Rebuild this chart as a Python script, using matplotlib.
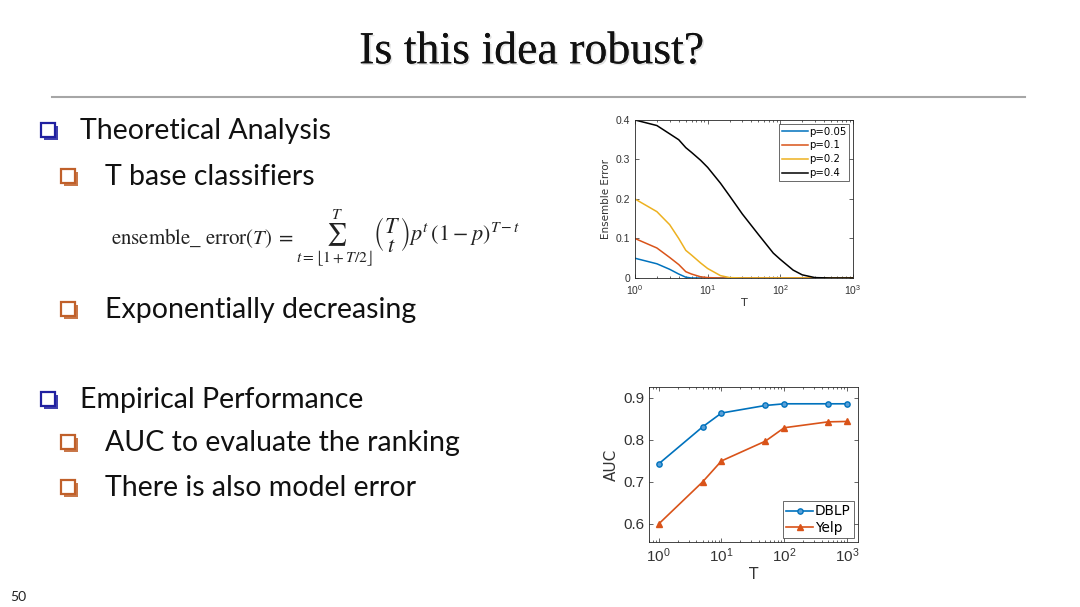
import numpy as np
import matplotlib
matplotlib.use('Agg')
import matplotlib.pyplot as plt
from matplotlib.patches import Rectangle
from matplotlib.lines import Line2D
import matplotlib.patheffects as pe

# --- data ---
T_grid = [1, 2, 3, 4, 5, 6, 8, 10, 15, 20, 30, 50, 80, 100, 150, 200, 300, 500, 1000]
err_p005 = [0.050, 0.036, 0.022, 0.010, 0.002, 0.0, 0.0, 0.0, 0.0, 0.0, 0.0, 0.0, 0.0, 0.0, 0.0, 0.0, 0.0, 0.0, 0.0]
err_p01 = [0.100, 0.076, 0.052, 0.034, 0.016, 0.010, 0.003, 0.001, 0.0, 0.0, 0.0, 0.0, 0.0, 0.0, 0.0, 0.0, 0.0, 0.0, 0.0]
err_p02 = [0.200, 0.168, 0.135, 0.100, 0.070, 0.058, 0.038, 0.024, 0.006, 0.001, 0.0, 0.0, 0.0, 0.0, 0.0, 0.0, 0.0, 0.0, 0.0]
err_p04 = [0.400, 0.386, 0.365, 0.350, 0.330, 0.318, 0.298, 0.280, 0.240, 0.208, 0.162, 0.110, 0.063, 0.047, 0.020, 0.008, 0.001, 0.0, 0.0]
p_labels = ['p=0.05', 'p=0.1', 'p=0.2', 'p=0.4']

T_auc = [1, 5, 10, 50, 100, 500, 1000]
auc_dblp = [0.743, 0.831, 0.864, 0.882, 0.886, 0.886, 0.886]
auc_yelp = [0.600, 0.700, 0.750, 0.797, 0.829, 0.843, 0.844]

matlab_colors = ['#0072BD', '#D95319', '#EDB120', '#000000']
axis_grey = '#262626'

fig = plt.figure(figsize=(10.8, 6.07), dpi=100)
fig.patch.set_facecolor('white')
W, H = 1080, 607

def fx(x):
    return x / W

def fy(y):
    return 1 - y / H

# title + rule
fig.text(fx(532), fy(52), 'Is this idea robust?', family='Liberation Serif', fontsize=33,
         ha='center', va='center', color='#111111',
         path_effects=[pe.withSimplePatchShadow(offset=(1.2, -1.2), shadow_rgbFace='#aaaaaa', alpha=0.35),
                       pe.Normal()])
fig.add_artist(Line2D([fx(52), fx(1025)], [fy(97), fy(97)], color='#a6a6a6', lw=1.5))

# bullets
def bullet(x, y, size, color):
    s = 3
    fig.add_artist(Rectangle((fx(x + s), fy(y + size / 2 + s)), size / W, size / H,
                             facecolor=color, edgecolor='none', alpha=0.85))
    fig.add_artist(Rectangle((fx(x), fy(y + size / 2)), size / W, size / H,
                             facecolor='white', edgecolor=color, lw=1.6))

blue_b = '#2020a0'
orange_b = '#c0602a'
body = dict(family='Lato', fontsize=20.5, color='#111111', va='center')

items = [
    (48, 80, 131, 'Theoretical Analysis', blue_b),
    (68, 105, 177, 'T base classifiers', orange_b),
    (68, 105, 310, 'Exponentially decreasing', orange_b),
    (48, 80, 400, 'Empirical Performance', blue_b),
    (68, 105, 443, 'AUC to evaluate the ranking', orange_b),
    (68, 105, 488, 'There is also model error', orange_b),
]
for bx, tx, ty, txt, col in items:
    bullet(bx - 7, ty - 1, 14, col)
    fig.text(fx(tx), fy(ty), txt, **body)

# formula
plt.rcParams['mathtext.fontset'] = 'stix'
fig.text(fx(111), fy(238), r'$\mathrm{ensemble\_\ error}(T)\;=$',
         fontsize=15, color='#222222', va='center', ha='left')
fig.text(fx(296), fy(238),
         r'$\sum_{t=\lfloor 1+T/2\rfloor}^{T}\genfrac{(}{)}{0}{0}{T}{t}p^{t}\,(1-p)^{T-t}$',
         fontsize=16, color='#222222', va='center', ha='left')

fig.text(fx(10), fy(597), '50', family='Lato', fontsize=10, color='#222222', va='center')

def matlab_style(ax, fs):
    for sp in ax.spines.values():
        sp.set_color(axis_grey)
        sp.set_linewidth(0.6)
    ax.tick_params(which='both', direction='in', top=True, right=True, colors=axis_grey,
                   labelcolor='#333333', labelsize=fs, width=0.5)
    ax.tick_params(which='major', length=3)
    ax.tick_params(which='minor', length=1.5)

# top chart
ax1 = fig.add_axes([fx(635), fy(278), 218 / W, 158 / H])
for vals, col, lab in zip([err_p005, err_p01, err_p02, err_p04], matlab_colors, p_labels):
    ax1.plot(T_grid, vals, color=col, lw=1.1, label=lab)
ax1.set_xscale('log')
ax1.set_xlim(1, 1000)
ax1.set_ylim(0, 0.4)
ax1.set_yticks([0, 0.1, 0.2, 0.3, 0.4])
ax1.set_yticklabels(['0', '0.1', '0.2', '0.3', '0.4'])
matlab_style(ax1, 7.5)
ax1.set_xlabel('T', fontsize=8, color='#333333', labelpad=1)
ax1.set_ylabel('Ensemble Error', fontsize=7.5, color='#333333', labelpad=3)
leg1 = ax1.legend(loc='upper right', fontsize=7.3, frameon=True, fancybox=False,
                  handlelength=2.6, handletextpad=0.1, borderpad=0.3, labelspacing=0.38,
                  borderaxespad=0.35)
leg1.get_frame().set_edgecolor(axis_grey)
leg1.get_frame().set_linewidth(0.6)

# bottom chart
ax2 = fig.add_axes([fx(649), fy(542), 209 / W, 155 / H])
ax2.plot(T_auc, auc_dblp, color=matlab_colors[0], lw=1.2, marker='o', ms=3.8,
         mfc='#5aa0d8', label='DBLP')
ax2.plot(T_auc, auc_yelp, color=matlab_colors[1], lw=1.2, marker='^', ms=4,
         mfc=matlab_colors[1], label='Yelp')
ax2.set_xscale('log')
ax2.set_xlim(0.7, 1500)
ax2.set_ylim(0.557, 0.926)
ax2.set_xticks([1, 10, 100, 1000])
ax2.set_yticks([0.6, 0.7, 0.8, 0.9])
ax2.set_yticklabels(['0.6', '0.7', '0.8', '0.9'])
matlab_style(ax2, 11)
ax2.set_xlabel('T', fontsize=11, color='#333333', labelpad=1)
ax2.set_ylabel('AUC', fontsize=11, color='#333333', labelpad=3)
leg2 = ax2.legend(loc='lower right', fontsize=9.8, frameon=True, fancybox=False,
                  handlelength=2.0, handletextpad=0.1, borderpad=0.25, labelspacing=0.15,
                  borderaxespad=0.3)
leg2.get_frame().set_edgecolor(axis_grey)
leg2.get_frame().set_linewidth(0.6)

for ax in (ax1, ax2):
    for lab in ax.get_xticklabels() + ax.get_yticklabels():
        lab.set_family('Liberation Sans')

fig.savefig('out.png', dpi=100)
